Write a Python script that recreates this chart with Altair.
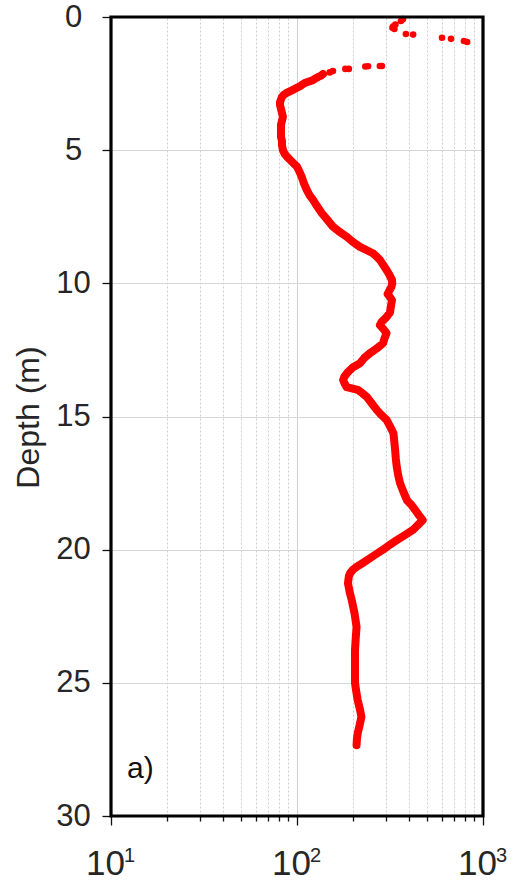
import altair as alt
import pandas as pd

# Scattered near-surface readings (depth in m, resistivity)
top_depth = [0.08, 0.15, 0.28, 0.35, 0.40, 0.45, 0.64, 0.66, 0.78, 0.82, 0.90, 0.94,
             1.84, 1.84, 1.85, 1.86, 1.95, 1.95, 2.03, 2.08]
top_value = [371, 362, 338, 330, 326, 334, 385, 421, 602, 673, 790, 822,
             286, 279, 241, 233, 190, 182, 156, 150]

# Continuous profile below ~2 m
prof_depth = [2.14, 2.20, 2.25, 2.30, 2.37, 2.42, 2.48, 2.55, 2.60, 2.67,
              2.74, 2.80, 2.85, 2.92, 3.00, 3.10, 3.20, 3.30, 3.45, 3.60,
              3.75, 3.90, 4.05, 4.20, 4.36, 4.50, 4.65, 4.80, 5.00, 5.15,
              5.27, 5.37, 5.50, 5.62, 5.80, 6.00, 6.25, 6.50, 6.70, 6.87,
              7.10, 7.37, 7.60, 7.87, 8.05, 8.25, 8.45, 8.63, 8.75, 8.87,
              9.00, 9.12, 9.30, 9.50, 9.70, 9.87, 10.00, 10.13, 10.25, 10.40,
              10.50, 10.63, 10.85, 11.10, 11.30, 11.45, 11.57, 11.70, 11.87, 12.05,
              12.25, 12.45, 12.63, 12.80, 13.00, 13.15, 13.33, 13.50, 13.63, 13.75,
              13.90, 14.00, 14.13, 14.26, 14.50, 14.76, 14.95, 15.13, 15.40, 15.63,
              15.90, 16.26, 16.60, 16.90, 17.20, 17.50, 17.80, 18.14, 18.30, 18.50,
              18.70, 18.89, 19.05, 19.26, 19.45, 19.64, 19.80, 20.00, 20.20, 20.40,
              20.55, 20.65, 20.75, 20.88, 21.00, 21.26, 21.60, 21.90, 22.40, 22.90,
              23.30, 23.77, 24.40, 25.00, 25.30, 25.65, 26.00, 26.28, 26.60, 26.90,
              27.10, 27.34]
prof_value = [138, 135, 130, 126, 122, 116, 110, 106, 104, 99,
              95, 91, 88, 85, 83, 82, 81, 81, 82, 83,
              84, 83, 82, 82, 82, 82, 83, 83, 84, 86,
              89, 92, 96, 100, 103, 106, 109, 113, 117, 122,
              128, 136, 145, 156, 168, 185, 200, 218, 236, 256,
              268, 279, 290, 303, 315, 324, 325, 322, 315, 307,
              315, 324, 320, 316, 300, 285, 279, 290, 303, 296,
              290, 268, 246, 230, 218, 200, 188, 180, 177, 180,
              185, 212, 225, 237, 252, 269, 285, 303, 318, 330,
              333, 337, 340, 344, 350, 358, 372, 390, 410, 431,
              452, 474, 450, 420, 380, 344, 318, 290, 262, 237,
              220, 209, 200, 193, 190, 188, 192, 197, 204, 209,
              207, 205, 205, 205, 208, 212, 218, 222, 217, 212,
              210, 209]

x_ticks = [10, 20, 30, 40, 50, 60, 70, 80, 90,
           100, 200, 300, 400, 500, 600, 700, 800, 900, 1000]
decades = [10, 100, 1000]
exponents = ["1", "2", "3"]
y_ticks = [0, 5, 10, 15, 20, 25, 30]

FONT = "Liberation Sans"
RED = "#ff0000"
TEXT = "#262626"
PLOT_W = 372
PLOT_H = 799

prof = pd.DataFrame({"depth": prof_depth, "value": prof_value})
allpts = pd.DataFrame({"depth": top_depth + prof_depth, "value": top_value + prof_value})
exp_df = pd.DataFrame({"value": decades, "e": exponents})

decade = "datum.value == 10 || datum.value == 100 || datum.value == 1000"

x_enc = alt.X(
    "value:Q",
    scale=alt.Scale(type="log", domain=[10, 1000], nice=False),
    axis=alt.Axis(
        values=x_ticks,
        title=None,
        domain=False,
        labelExpr=f"({decade}) ? '10' : ''",
        labelFont=FONT,
        labelFontSize=35,
        labelColor=TEXT,
        labelPadding=21,
        labelOffset=-6,
        labelOverlap=False,
        labelFlush=False,
        tickColor="#111111",
        tickWidth=1.3,
        tickSize={"condition": {"test": decade, "value": 9}, "value": 5},
        grid=True,
        gridColor="#cfcfcf",
        gridWidth=1,
        gridDash={"condition": {"test": decade, "value": []}, "value": [2, 2]},
    ),
)

y_enc = alt.Y(
    "depth:Q",
    scale=alt.Scale(domain=[0, 30], reverse=True, nice=False),
    axis=alt.Axis(
        values=y_ticks,
        title="Depth (m)",
        domain=False,
        labelFont=FONT,
        labelFontSize=31,
        labelColor=TEXT,
        labelAlign="center",
        labelBaseline="middle",
        labelPadding=29,
        tickColor="#111111",
        tickWidth=1.3,
        tickSize=9,
        grid=True,
        gridColor="#d6d6d6",
        gridWidth=1,
        titleFont=FONT,
        titleFontSize=32,
        titleFontWeight="normal",
        titleColor=TEXT,
        titleAngle=-90,
        titleAlign="center",
        titleBaseline="middle",
        titleX=-83,
        titleY=400,
    ),
)

line = alt.Chart(prof).mark_line(
    color=RED, strokeWidth=8, strokeCap="round", strokeJoin="round"
).encode(x=x_enc, y=y_enc, order="depth:Q")

points = alt.Chart(allpts).mark_circle(color=RED, size=44, opacity=1).encode(
    x="value:Q", y="depth:Q"
)

# superscript exponents for the decade labels
exps = alt.Chart(exp_df).mark_text(
    font=FONT, fontSize=20, color=TEXT, align="left", baseline="alphabetic", dx=13
).encode(x="value:Q", y=alt.value(PLOT_H + 46), text="e:N")

label = alt.Chart(pd.DataFrame({"value": [12.2], "depth": [28.58], "t": ["a)"]})).mark_text(
    font=FONT, fontSize=30, color="#111111", align="left", baseline="alphabetic"
).encode(x="value:Q", y="depth:Q", text="t:N")

# heavy black plot frame
frame = alt.Chart(pd.DataFrame({"k": [0]})).mark_rect(
    fill=None, stroke="#000000", strokeWidth=3.2
).encode(
    x=alt.value(0), x2=alt.value(PLOT_W), y=alt.value(0), y2=alt.value(PLOT_H)
)

chart = (
    alt.layer(line, points, label, exps, frame)
    .properties(
        width=PLOT_W,
        height=PLOT_H,
        background="white",
        autosize=alt.AutoSizeParams(type="none"),
        padding={"left": 111, "top": 17, "right": 30, "bottom": 66},
    )
    .configure_view(stroke=None)
)

chart.save("out.html", embed_options={"renderer": "svg", "actions": False})
